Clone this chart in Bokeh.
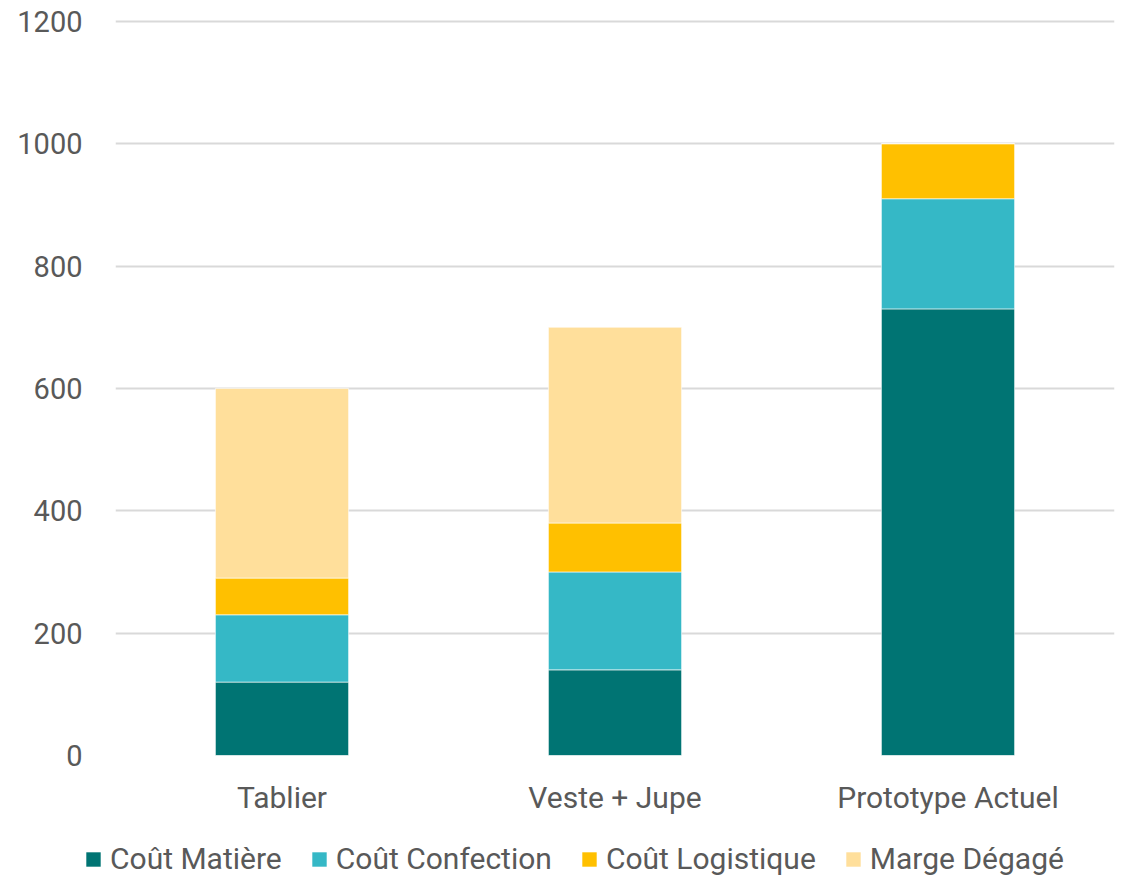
from bokeh.plotting import figure
from bokeh.models import (ColumnDataSource, FactorRange, Range1d, Legend,
                          LegendItem)
from bokeh.embed import file_html
from bokeh.resources import INLINE

categories = ["Tablier", "Veste + Jupe", "Prototype Actuel"]
cout_matiere = [120, 140, 730]
cout_confection = [110, 160, 180]
cout_logistique = [60, 80, 90]
marge_degage = [310, 320, 0]
series_labels = ["Coût Matière", "Coût Confection", "Coût Logistique", "Marge Dégagé"]
series_keys = ["matiere", "confection", "logistique", "marge"]
series_colors = ["#007473", "#35B8C6", "#FFC000", "#FFDF9B"]
y_ticks = [0, 200, 400, 600, 800, 1000, 1200]

source = ColumnDataSource(data=dict(
    cat=categories,
    matiere=cout_matiere,
    confection=cout_confection,
    logistique=cout_logistique,
    marge=marge_degage,
))

FONT = "Roboto"
TXT = "#595959"

p = figure(
    x_range=FactorRange(*categories, range_padding=0),
    y_range=Range1d(0, 1203),
    width=1124, height=822,
    output_backend="svg", toolbar_location=None,
    min_border_left=115, min_border_right=10, min_border_top=19,
    min_border_bottom=67,
)
p.outline_line_color = None
p.background_fill_color = "white"
p.border_fill_color = "white"

renderers = p.vbar_stack(series_keys, x="cat", width=0.4, color=series_colors,
                         source=source, line_color="white", line_width=0.6)

p.xgrid.grid_line_color = None
p.ygrid.grid_line_color = "#D9D9D9"
p.ygrid.grid_line_width = 2
p.yaxis.ticker = y_ticks

for ax in (p.xaxis[0], p.yaxis[0]):
    ax.axis_line_color = None
    ax.major_tick_line_color = None
    ax.minor_tick_line_color = None
    ax.major_label_text_font = FONT
    ax.major_label_text_color = TXT

p.yaxis.major_label_text_font_size = "29px"
p.xaxis.major_label_text_font_size = "30px"
p.yaxis.major_label_standoff = 27
p.xaxis.major_label_standoff = 18

# legend strip (separate root so its frame spans the full width)
lf = figure(
    width=1124, height=56,
    x_range=Range1d(0, 1), y_range=Range1d(0, 1),
    x_axis_location=None, y_axis_location=None,
    output_backend="svg", toolbar_location=None,
    min_border=0,
)
lf.outline_line_color = None
lf.grid.visible = False
lf.background_fill_color = "white"
lf.border_fill_color = "white"
# swatch renderers placed outside the visible range; only their legend swatches show
dummy = [lf.vbar(x=[5], bottom=[5], top=[6], width=0.5, color=c, line_color=None)
         for c in series_colors]

legend = Legend(
    items=[LegendItem(label=lab, renderers=[r]) for lab, r in zip(series_labels, dummy)],
    orientation="horizontal",
    location=(84, 2),
    label_text_font=FONT,
    label_text_font_size="30px",
    label_text_color=TXT,
    glyph_width=18, glyph_height=18,
    label_standoff=8,
    spacing=28,
    padding=0,
    margin=0,
    border_line_color=None,
    background_fill_alpha=0,
)
lf.add_layout(legend, "center")

open("out.html", "w").write(file_html([p, lf], INLINE))
